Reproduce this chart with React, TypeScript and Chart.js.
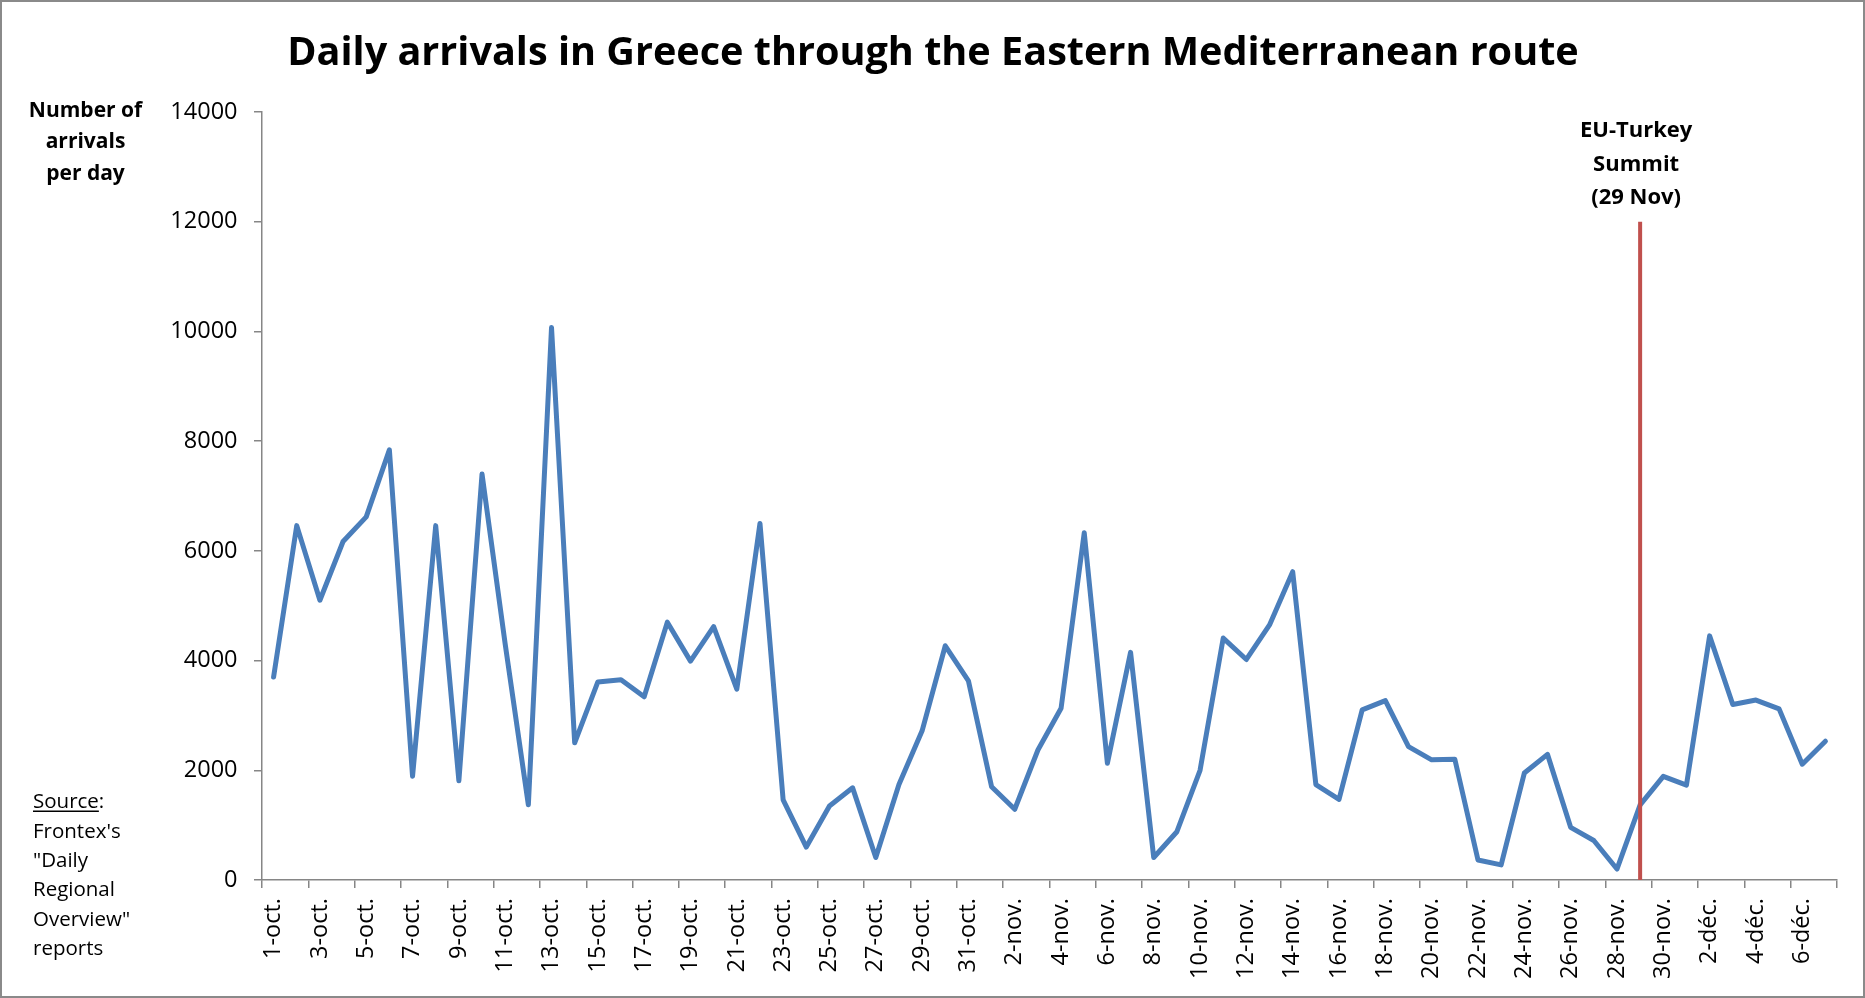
import React, { useEffect, useRef } from 'react';
import { Chart, registerables } from 'chart.js';

Chart.register(...registerables);

const dateLabels: string[] = [
  '1-oct.', '2-oct.', '3-oct.', '4-oct.', '5-oct.', '6-oct.', '7-oct.', '8-oct.', '9-oct.', '10-oct.',
  '11-oct.', '12-oct.', '13-oct.', '14-oct.', '15-oct.', '16-oct.', '17-oct.', '18-oct.', '19-oct.', '20-oct.',
  '21-oct.', '22-oct.', '23-oct.', '24-oct.', '25-oct.', '26-oct.', '27-oct.', '28-oct.', '29-oct.', '30-oct.',
  '31-oct.', '1-nov.', '2-nov.', '3-nov.', '4-nov.', '5-nov.', '6-nov.', '7-nov.', '8-nov.', '9-nov.',
  '10-nov.', '11-nov.', '12-nov.', '13-nov.', '14-nov.', '15-nov.', '16-nov.', '17-nov.', '18-nov.', '19-nov.',
  '20-nov.', '21-nov.', '22-nov.', '23-nov.', '24-nov.', '25-nov.', '26-nov.', '27-nov.', '28-nov.', '29-nov.',
  '30-nov.', '1-déc.', '2-déc.', '3-déc.', '4-déc.', '5-déc.', '6-déc.', '7-déc.',
];

const dailyArrivals: number[] = [
  3700, 6460, 5100, 6170, 6620, 7840, 1890, 6460, 1810, 7400,
  4300, 1370, 10070, 2500, 3610, 3650, 3340, 4700, 3990, 4620,
  3480, 6500, 1460, 600, 1350, 1680, 410, 1740, 2720, 4270,
  3630, 1700, 1290, 2370, 3130, 6330, 2130, 4150, 410, 880,
  2000, 4410, 4020, 4650, 5620, 1740, 1470, 3100, 3270, 2430,
  2190, 2200, 365, 275, 1950, 2290, 960, 720, 200, 1370,
  1890, 1730, 4450, 3200, 3280, 3120, 2110, 2530,
];

const yMin = 0;
const yMax = 14000;
const yStep = 2000;

const chartTitle = 'Daily arrivals in Greece through the Eastern Mediterranean route';
const yAxisTitleLines: string[] = ['Number of', 'arrivals', 'per day'];
const sourceHeading = 'Source';
const sourceLines: string[] = ["Frontex's", '"Daily', 'Regional', 'Overview"', 'reports'];
const summitLabelLines: string[] = ['EU-Turkey', 'Summit', '(29 Nov)'];
const summitDate = '29-nov.';
const summitLineTop = 12000;

const FONT = '"Open Sans", sans-serif';
const AXIS_COLOR = '#868686';
const LINE_COLOR = '#4a7ebb';
const SUMMIT_COLOR = '#c0504d';

const W = 1865;
const H = 998;

const decorPlugin = {
  id: 'decor',
  beforeDraw(chart: any) {
    const ctx = chart.ctx;
    ctx.save();
    ctx.fillStyle = '#ffffff';
    ctx.fillRect(0, 0, chart.width, chart.height);
    ctx.restore();
  },
  afterDatasetsDraw(chart: any) {
    const ctx = chart.ctx;
    const xs = chart.scales.x;
    const ys = chart.scales.y;
    const idx = dateLabels.indexOf(summitDate);
    const x = xs.getPixelForValue(idx);
    ctx.save();
    ctx.strokeStyle = SUMMIT_COLOR;
    ctx.lineWidth = 4;
    ctx.beginPath();
    ctx.moveTo(x, ys.getPixelForValue(0));
    ctx.lineTo(x, ys.getPixelForValue(summitLineTop));
    ctx.stroke();
    ctx.restore();
  },
  afterDraw(chart: any) {
    const ctx = chart.ctx;
    const xs = chart.scales.x;
    ctx.save();
    ctx.font = `bold 40px ${FONT}`;
    const tw = ctx.measureText(chartTitle).width;
    const tSize = (40 * 1292) / tw;
    ctx.font = `bold ${tSize}px ${FONT}`;
    ctx.fillStyle = '#000';
    ctx.textAlign = 'center';
    ctx.textBaseline = 'alphabetic';
    ctx.fillText(chartTitle, 933, 65);

    ctx.font = `bold 21px ${FONT}`;
    yAxisTitleLines.forEach((line, i) => {
      ctx.fillText(line, 85.5, 116.5 + i * 31.7);
    });

    const idx = dateLabels.indexOf(summitDate);
    const sx = xs.getPixelForValue(idx) - 4;
    ctx.font = `bold 22px ${FONT}`;
    summitLabelLines.forEach((line, i) => {
      ctx.fillText(line, sx, 137 + i * 33.5);
    });

    ctx.textAlign = 'left';
    ctx.font = `20.5px ${FONT}`;
    const sx0 = 33;
    ctx.fillText(sourceHeading, sx0, 808.3);
    const hw = ctx.measureText(sourceHeading).width;
    ctx.fillText(':', sx0 + hw, 808.3);
    ctx.fillRect(sx0, 810.5, hw, 1.5);
    sourceLines.forEach((line, i) => {
      ctx.fillText(line, sx0, 808.3 + (i + 1) * 29.3);
    });

    ctx.strokeStyle = '#8a8a8a';
    ctx.lineWidth = 2;
    ctx.strokeRect(1, 1, W - 2, H - 2);
    ctx.restore();
  },
};

export default function App() {
  const canvasRef = useRef<HTMLCanvasElement | null>(null);

  useEffect(() => {
    if (!canvasRef.current) return;
    const chart = new Chart(canvasRef.current, {
      type: 'line',
      data: {
        labels: dateLabels,
        datasets: [
          {
            data: dailyArrivals,
            borderColor: LINE_COLOR,
            borderWidth: 5,
            pointRadius: 0,
            pointHoverRadius: 0,
            tension: 0,
            fill: false,
            borderJoinStyle: 'round',
            borderCapStyle: 'round',
          },
        ],
      },
      options: {
        responsive: false,
        animation: false,
        devicePixelRatio: 1,
        layout: { padding: { top: 112, right: 28, left: 0, bottom: 0 } },
        plugins: {
          legend: { display: false },
          tooltip: { enabled: false },
          title: { display: false },
        },
        events: [],
        scales: {
          x: {
            type: 'category',
            offset: true,
            afterFit: (scale: any) => {
              scale.height = 118;
            },
            border: { color: AXIS_COLOR, width: 1.5 },
            grid: {
              offset: true,
              drawOnChartArea: false,
              drawTicks: true,
              tickLength: 8,
              lineWidth: 1.5,
              color: AXIS_COLOR,
              tickColor: (ctx: any) =>
                ctx.type === 'tick' ? (ctx.index % 2 === 0 ? AXIS_COLOR : 'rgba(0,0,0,0)') : AXIS_COLOR,
            },
            ticks: {
              autoSkip: false,
              minRotation: 90,
              maxRotation: 90,
              padding: 10,
              color: '#000',
              font: { family: FONT, size: 23.5 },
              callback: (_v: any, i: number) => (i % 2 === 0 ? dateLabels[i] : ''),
            },
          },
          y: {
            min: yMin,
            max: yMax,
            afterFit: (scale: any) => {
              scale.width = 262;
            },
            border: { color: AXIS_COLOR, width: 1.5 },
            grid: {
              drawOnChartArea: false,
              drawTicks: true,
              tickLength: 8,
              lineWidth: 1.5,
              color: AXIS_COLOR,
            },
            ticks: {
              stepSize: yStep,
              padding: 16.5,
              color: '#000',
              font: { family: FONT, size: 23.5 },
              callback: (v: any) => String(v),
            },
          },
        },
      },
      plugins: [decorPlugin],
    } as any);
    return () => chart.destroy();
  }, []);

  return (
    <div style={{ position: 'absolute', left: 0, top: 0, width: W, height: H, background: '#fff' }}>
      <canvas ref={canvasRef} width={W} height={H} style={{ width: W, height: H, display: 'block' }} />
    </div>
  );
}
